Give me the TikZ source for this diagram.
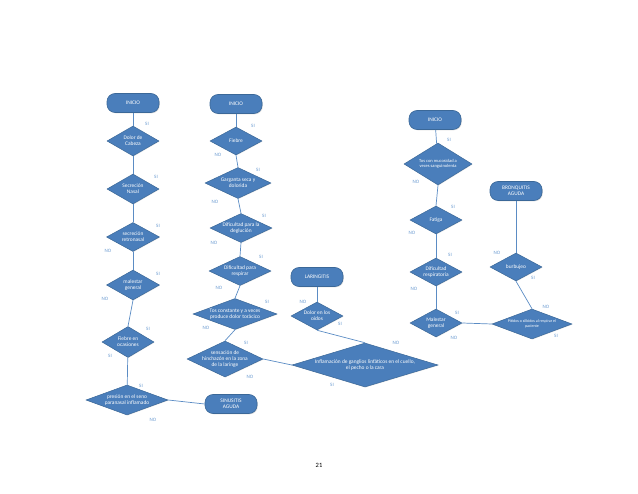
\documentclass[tikz,border=0pt]{standalone}
\usepackage{fontspec}
\setmainfont{Carlito}
\usetikzlibrary{shapes.geometric,shadows}
\definecolor{boxfill}{HTML}{4A7EBB}
\definecolor{boxline}{HTML}{3B6898}
\definecolor{lnk}{HTML}{5B8CC4}
\definecolor{lbl}{HTML}{6A9AD0}
\tikzset{
  term/.style={draw=boxline, fill=boxfill, line width=0.6pt, rounded corners=8pt,
    minimum width=52pt, minimum height=19pt, inner sep=1pt, text=white, align=center,
    font=\fontsize{5.4}{6.2}\selectfont, drop shadow={opacity=0.25, shadow xshift=0.8pt, shadow yshift=-0.8pt}},
  dia/.style={diamond, draw=boxline, fill=boxfill, line width=0.5pt, inner sep=0pt, aspect=1.8,
    drop shadow={opacity=0.2, shadow xshift=0.6pt, shadow yshift=-0.6pt}},
  dtext/.style={text=white, align=center, font=\fontsize{5.4}{6.2}\selectfont, inner sep=0pt},
  yn/.style={text=lbl, font=\fontsize{5}{5.5}\selectfont, inner sep=0pt},
  conn/.style={draw=lnk, line width=0.7pt},
}
\begin{document}
\begin{tikzpicture}[x=1pt,y=-1pt]
\useasboundingbox (0,0) rectangle (638,494);
% Column 1
\node[term] (ini1) at (133,103) {INICIO};
\node[dia, minimum width=52pt, minimum height=30pt] (c1a) at (133,141) {};
\node[dtext] at (c1a) {Dolor de\\Cabeza};
\node[dia, minimum width=52pt, minimum height=30pt] (c1b) at (133,189) {};
\node[dtext] at (c1b) {Secreción\\Nasal};
\node[dia, minimum width=53pt, minimum height=29pt] (c1c) at (133,237) {};
\node[dtext] at (c1c) {secreción\\retronasal};
\node[dia, minimum width=53pt, minimum height=30pt] (c1d) at (133,285) {};
\node[dtext] at (c1d) {malestar\\general};
\node[dia, minimum width=52pt, minimum height=31pt] (c1e) at (128,342) {};
\node[dtext] at (c1e) {Fiebre en\\ocasiones};
\node[dia, minimum width=82pt, minimum height=30pt] (c1f) at (127,400) {};
\node[dtext] at (c1f) {presión en el seno\\paranasal inflamado};
\node[term] (sinus) at (231,404) {SINUSITIS\\AGUDA};
\draw[conn] (ini1) -- (c1a);
\draw[conn] (c1a) -- (c1b);
\draw[conn] (c1b) -- (c1c);
\draw[conn] (c1c) -- (c1d);
\draw[conn] (c1d.south) -- (c1e.north);
\draw[conn] (c1e) -- (c1f);
\draw[conn] (c1f.east) -- (sinus.west);
\node[yn] at (147,124) {SI};
\node[yn] at (156,177) {SI};
\node[yn] at (158,226) {SI};
\node[yn] at (108,251) {NO};
\node[yn] at (158,274) {SI};
\node[yn] at (105,299) {NO};
\node[yn] at (148,329) {SI};
\node[yn] at (110,356) {SI};
\node[yn] at (141,386) {SI};
\node[yn] at (153,420) {NO};
% Column 2
\node[term] (ini2) at (236,104) {INICIO};
\node[dia, minimum width=52pt, minimum height=28pt] (c2a) at (236,141) {};
\node[dtext] at (c2a) {Fiebre};
\node[dia, minimum width=66pt, minimum height=31pt] (c2b) at (238,183) {};
\node[dtext] at (c2b) {Garganta seca y\\dolorida};
\node[dia, minimum width=62pt, minimum height=29pt] (c2c) at (241,228) {};
\node[dtext] at (c2c) {Dificultad para la\\deglución};
\node[dia, minimum width=62pt, minimum height=29pt] (c2d) at (240,271) {};
\node[dtext] at (c2d) {Dificultad para\\respirar};
\node[dia, minimum width=84pt, minimum height=31pt] (c2e) at (235,314) {};
\node[dtext] at (c2e) {Tos constante y a veces\\produce dolor torácico};
\node[dia, minimum width=76pt, minimum height=36pt] (c2f) at (225,359) {};
\node[dtext] at (c2f) {sensación de\\hinchazón en la zona\\de la laringe};
\draw[conn] (ini2) -- (c2a);
\draw[conn] (c2a.south) -- (c2b.north);
\draw[conn] (c2b.south) -- (c2c.north);
\draw[conn] (c2c.south) -- (c2d.north);
\draw[conn] (c2d.south) -- (c2e.north);
\draw[conn] (c2e.south) -- (c2f.north);
\node[yn] at (253,126) {SI};
\node[yn] at (218,155) {NO};
\node[yn] at (258,170) {SI};
\node[yn] at (215,202) {NO};
\node[yn] at (264,216) {SI};
\node[yn] at (214,243) {NO};
\node[yn] at (261,257) {SI};
\node[yn] at (219,288) {NO};
\node[yn] at (267,302) {SI};
\node[yn] at (206,328) {NO};
\node[yn] at (246,343) {SI};
\node[yn] at (250,377) {NO};
% Column 3
\node[term] (lar) at (317,277) {LARINGITIS};
\node[dia, minimum width=52pt, minimum height=28pt] (c3a) at (317,316) {};
\node[dtext] at (c3a) {Dolor en los\\oídos};
\node[dia, minimum width=146pt, minimum height=44pt] (c3b) at (365,365) {};
\node[dtext] at (c3b) {Inflamación de ganglios linfáticos en el cuello,\\el pecho o la cara};
\draw[conn] (lar) -- (c3a);
\draw[conn] (c3a.south) -- (c3b.north);
\draw[conn] (c2f.east) -- (c3b.west);
\node[yn] at (303,302) {NO};
\node[yn] at (340,324) {SI};
\node[yn] at (396,343) {NO};
\node[yn] at (332,385) {SI};
% Column 4
\node[term] (ini4) at (435,120) {INICIO};
\node[dia, minimum width=68pt, minimum height=42pt] (c4a) at (438,164) {};
\node[dtext, font=\fontsize{4.5}{5.2}\selectfont] at (c4a) {Tos con mucosidad a\\veces sanguinolenta};
\node[dia, minimum width=52pt, minimum height=28pt] (c4b) at (436,220) {};
\node[dtext] at (c4b) {Fatiga};
\node[dia, minimum width=52pt, minimum height=28pt] (c4c) at (436,272) {};
\node[dtext] at (c4c) {Dificultad\\respiratoria};
\node[dia, minimum width=52pt, minimum height=28pt] (c4d) at (436,323) {};
\node[dtext] at (c4d) {Malestar\\general};
\draw[conn] (ini4) -- (c4a);
\draw[conn] (c4a.south) -- (c4b.north);
\draw[conn] (c4b) -- (c4c);
\draw[conn] (c4c) -- (c4d);
\node[yn] at (449,140) {SI};
\node[yn] at (416,182) {NO};
\node[yn] at (453,207) {SI};
\node[yn] at (412,233) {NO};
\node[yn] at (450,255) {SI};
\node[yn] at (414,289) {NO};
\node[yn] at (457,313) {SI};
\node[yn] at (454,338) {NO};
% Column 5
\node[term] (bron) at (516,191) {BRONQUITIS\\AGUDA};
\node[dia, minimum width=52pt, minimum height=28pt] (c5a) at (516,267) {};
\node[dtext] at (c5a) {burbujeo};
\node[dia, minimum width=80pt, minimum height=30pt] (c5b) at (532,324) {};
\node[dtext, font=\fontsize{4}{4.7}\selectfont] at (c5b) {Pitidos o silbidos al respirar el\\paciente};
\draw[conn] (bron) -- (c5a);
\draw[conn] (c5a.south) -- (c5b.north);
\draw[conn] (c4d.east) -- (c5b.west);
\node[yn] at (497,253) {NO};
\node[yn] at (533,278) {SI};
\node[yn] at (546,307) {NO};
\node[yn] at (556,336) {SI};
% page number
\node[font=\fontsize{6.5}{8}\selectfont, inner sep=0pt] (pg) at (319,465) {21};
\end{tikzpicture}
\end{document}
